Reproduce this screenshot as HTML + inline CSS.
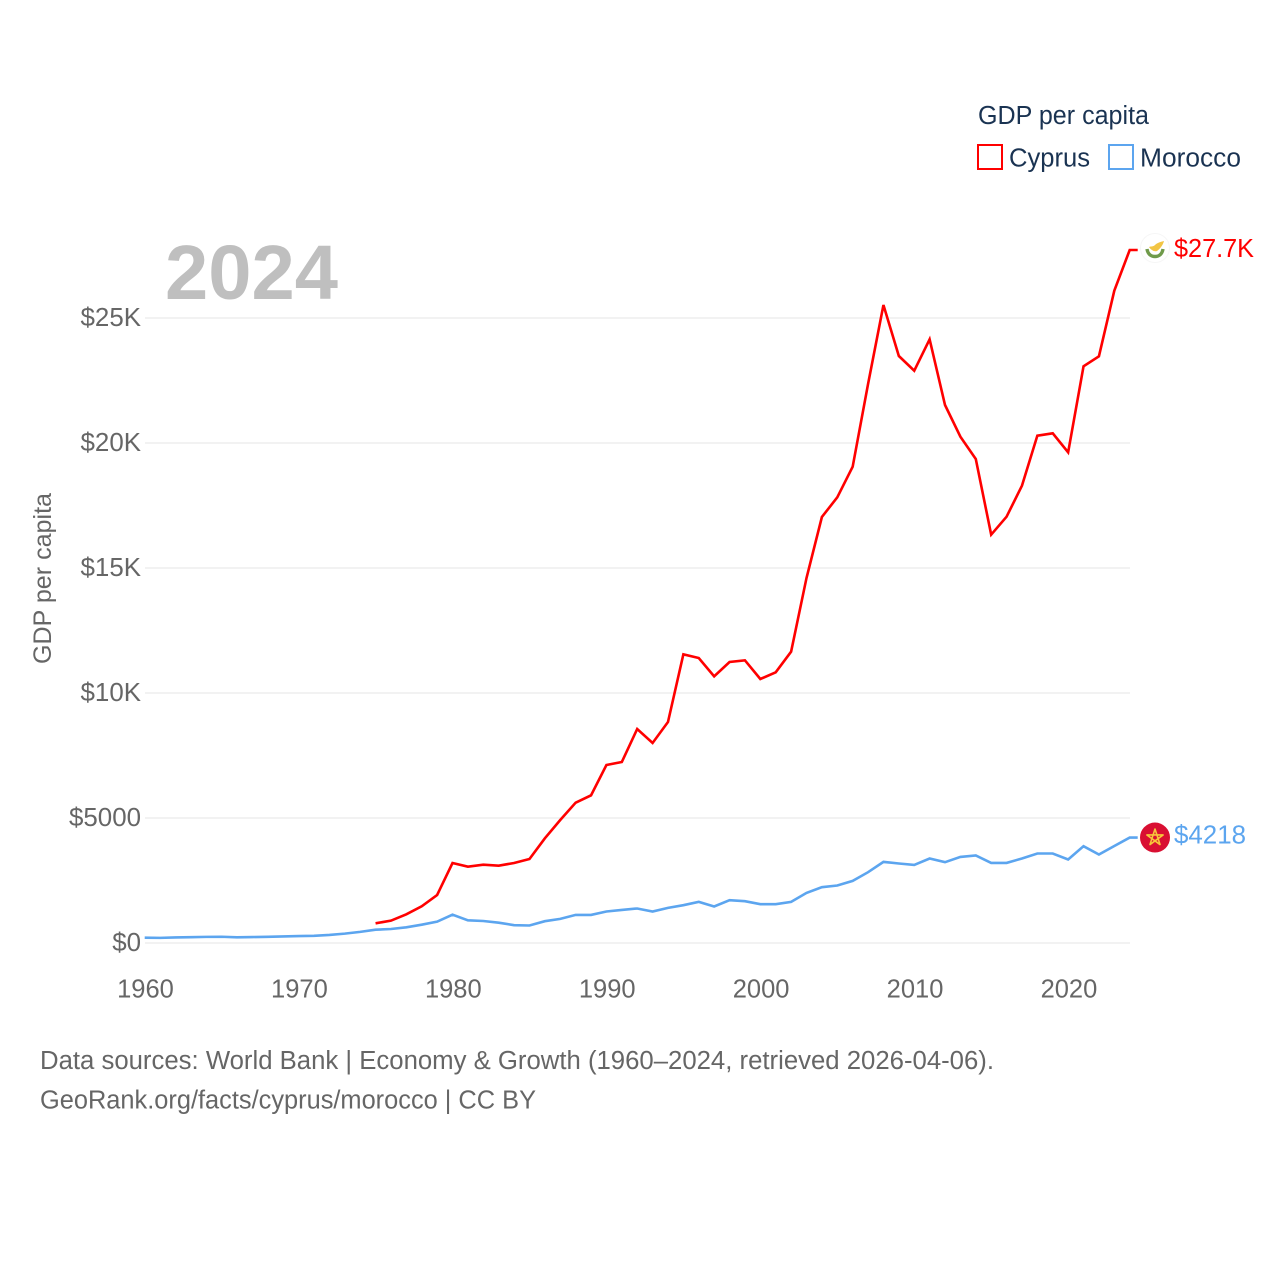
<!DOCTYPE html>
<html lang="en">
<head>
<meta charset="utf-8">
<title>GDP per capita: Cyprus and Morocco</title>
<style>
html,body{margin:0;padding:0;background:#fff;width:1280px;height:1280px;overflow:hidden}
svg{display:block}
text{font-family:"Liberation Sans",sans-serif}
</style>
</head>
<body>
<svg id="chart" width="1280" height="1280" viewBox="0 0 1280 1280" xmlns="http://www.w3.org/2000/svg">
  <rect width="1280" height="1280" fill="#fff"/>
  <g id="grid"></g>
  <g id="yticks"></g>
  <g id="xticks"></g>
  <text x="165" y="299" font-size="77" font-weight="700" fill="#bfbfbf" textLength="173" lengthAdjust="spacingAndGlyphs">2024</text>
  <text transform="translate(51,664) rotate(-90)" font-size="25" fill="#666" textLength="171" lengthAdjust="spacingAndGlyphs">GDP per capita</text>
  <g id="series"></g>
  <g id="ends"></g>
  <g>
    <text x="978" y="124" font-size="25.5" fill="#1a3352" textLength="171" lengthAdjust="spacingAndGlyphs">GDP per capita</text>
    <rect x="978" y="145" width="24" height="24" fill="#fff" stroke="#ff0000" stroke-width="2"/>
    <text x="1009" y="166.5" font-size="25.5" fill="#1a3352" textLength="81" lengthAdjust="spacingAndGlyphs">Cyprus</text>
    <rect x="1109" y="145" width="24" height="24" fill="#fff" stroke="#5ca5ef" stroke-width="2"/>
    <text x="1140" y="166.5" font-size="25.5" fill="#1a3352" textLength="101" lengthAdjust="spacingAndGlyphs">Morocco</text>
  </g>
  <text x="40" y="1069" font-size="25.5" fill="#666" textLength="954" lengthAdjust="spacingAndGlyphs">Data sources: World Bank | Economy &amp; Growth (1960–2024, retrieved 2026-04-06).</text>
  <text x="40" y="1108.5" font-size="25.5" fill="#666" textLength="496" lengthAdjust="spacingAndGlyphs">GeoRank.org/facts/cyprus/morocco | CC BY</text>
</svg>
<script>
const firstYear = 1960;
const lastYear = 2024;
const xTickValues = [1960, 1970, 1980, 1990, 2000, 2010, 2020];
const xTickLabels = ["1960", "1970", "1980", "1990", "2000", "2010", "2020"];
const yTickValues = [0, 5000, 10000, 15000, 20000, 25000];
const yTickLabels = ["$0", "$5000", "$10K", "$15K", "$20K", "$25K"];
const cyprusStartYear = 1975;
const cyprusValues = [788, 893, 1147, 1467, 1920, 3200, 3053, 3133, 3093, 3200, 3360, 4187, 4920, 5613, 5907, 7120, 7240, 8560, 8000, 8840, 11547, 11400, 10667, 11240, 11307, 10560, 10827, 11653, 14600, 17040, 17827, 19053, 22360, 25520, 23480, 22893, 24147, 21520, 20253, 19360, 16333, 17053, 18293, 20293, 20387, 19627, 23067, 23467, 26093, 27720];
const moroccoStartYear = 1960;
const moroccoValues = [213, 205, 222, 232, 245, 250, 228, 238, 248, 262, 277, 288, 322, 375, 445, 533, 560, 627, 733, 853, 1133, 907, 880, 813, 712, 700, 872, 964, 1124, 1124, 1260, 1324, 1380, 1260, 1404, 1512, 1644, 1460, 1712, 1672, 1552, 1552, 1644, 2004, 2232, 2300, 2484, 2832, 3244, 3180, 3124, 3380, 3232, 3444, 3500, 3204, 3204, 3380, 3580, 3580, 3340, 3872, 3540, 3880, 4218];
const cyprusEndLabel = "$27.7K";
const moroccoEndLabel = "$4218";

const NS = "http://www.w3.org/2000/svg";
const plotLeft = 145, plotRight = 1130, plotBottom = 943, plotTopValue = 318, maxTickValue = 25000;
function xScale(year) { return plotLeft + (year - firstYear) * (plotRight - plotLeft) / (lastYear - firstYear); }
function yScale(value) { return plotBottom - value * (plotBottom - plotTopValue) / maxTickValue; }
function make(tag, parent, attrs, content) {
  const el = document.createElementNS(NS, tag);
  for (const k in attrs) el.setAttribute(k, attrs[k]);
  if (content !== undefined) el.textContent = content;
  parent.appendChild(el);
  return el;
}
function linePath(startYear, values) {
  let d = "";
  values.forEach(function (v, i) {
    d += (i ? "L" : "M") + (xScale(startYear + i) - 0.3).toFixed(2) + " " + yScale(v).toFixed(2);
  });
  d += "h8";
  return d;
}

const grid = document.getElementById("grid");
const yticks = document.getElementById("yticks");
yTickValues.forEach(function (v, i) {
  const gl = make("line", grid, { x1: plotLeft, x2: plotRight, y1: yScale(v), y2: yScale(v), stroke: "#ededed", "stroke-width": 1.5 });
  
  
  const t = make("text", yticks, { x: 141, y: yScale(v) + 8, "text-anchor": "end", "font-size": 25.9, fill: "#666" }, yTickLabels[i]);
  
  
});
const xticks = document.getElementById("xticks");
xTickValues.forEach(function (v, i) {
  const t = make("text", xticks, { x: xScale(v) + 0.5, y: 997.5, "text-anchor": "middle", "font-size": 25.5, fill: "#666" }, xTickLabels[i]);
  
  
});

const series = document.getElementById("series");
const moroccoLine = make("path", series, { d: linePath(moroccoStartYear, moroccoValues), fill: "none", stroke: "#5ca5ef", "stroke-width": 2.6, "stroke-linejoin": "miter" });


const cyprusLine = make("path", series, { d: linePath(cyprusStartYear, cyprusValues), fill: "none", stroke: "#ff0000", "stroke-width": 2.6, "stroke-linejoin": "miter" });



const ends = document.getElementById("ends");
const cyY = yScale(cyprusValues[cyprusValues.length - 1]);
const maY = yScale(moroccoValues[moroccoValues.length - 1]);

const cyFlag = make("g", ends, { transform: "translate(1155," + (cyY - 2) + ")" });


make("circle", cyFlag, { r: 14.5, fill: "#fff", stroke: "#f6f6f6", "stroke-width": 1 });
make("path", cyFlag, { d: "M-6 -1C-4 -2 -2 -1 0 -3C2 -5 5 -6 9 -7C8 -3 5 1 2 3C-1 4 -4 2 -6 -1Z", fill: "#f2c544" });
make("path", cyFlag, { d: "M-8 1C-7 7 -3 8.5 0 8.5C3 8.5 7 7 8 1", fill: "none", stroke: "#6f9a4a", "stroke-width": 3.4 });

const cyLabel = make("text", ends, { x: 1174, y: cyY + 7, "font-size": 25.5, fill: "#ff0000", textLength: 80, lengthAdjust: "spacingAndGlyphs" }, cyprusEndLabel);



const maFlag = make("g", ends, { transform: "translate(1155," + maY + ")" });


make("circle", maFlag, { r: 15, fill: "#d90f32" });
make("polygon", maFlag, { points: "0,-8.5 5,7 -8.1,-2.6 8.1,-2.6 -5,7", fill: "none", stroke: "#f7c63a", "stroke-width": 1.6, "stroke-linejoin": "round" });

const maLabel = make("text", ends, { x: 1174, y: maY + 6, "font-size": 25.5, fill: "#5ca5ef", textLength: 72, lengthAdjust: "spacingAndGlyphs" }, moroccoEndLabel);


</script>
</body>
</html>
